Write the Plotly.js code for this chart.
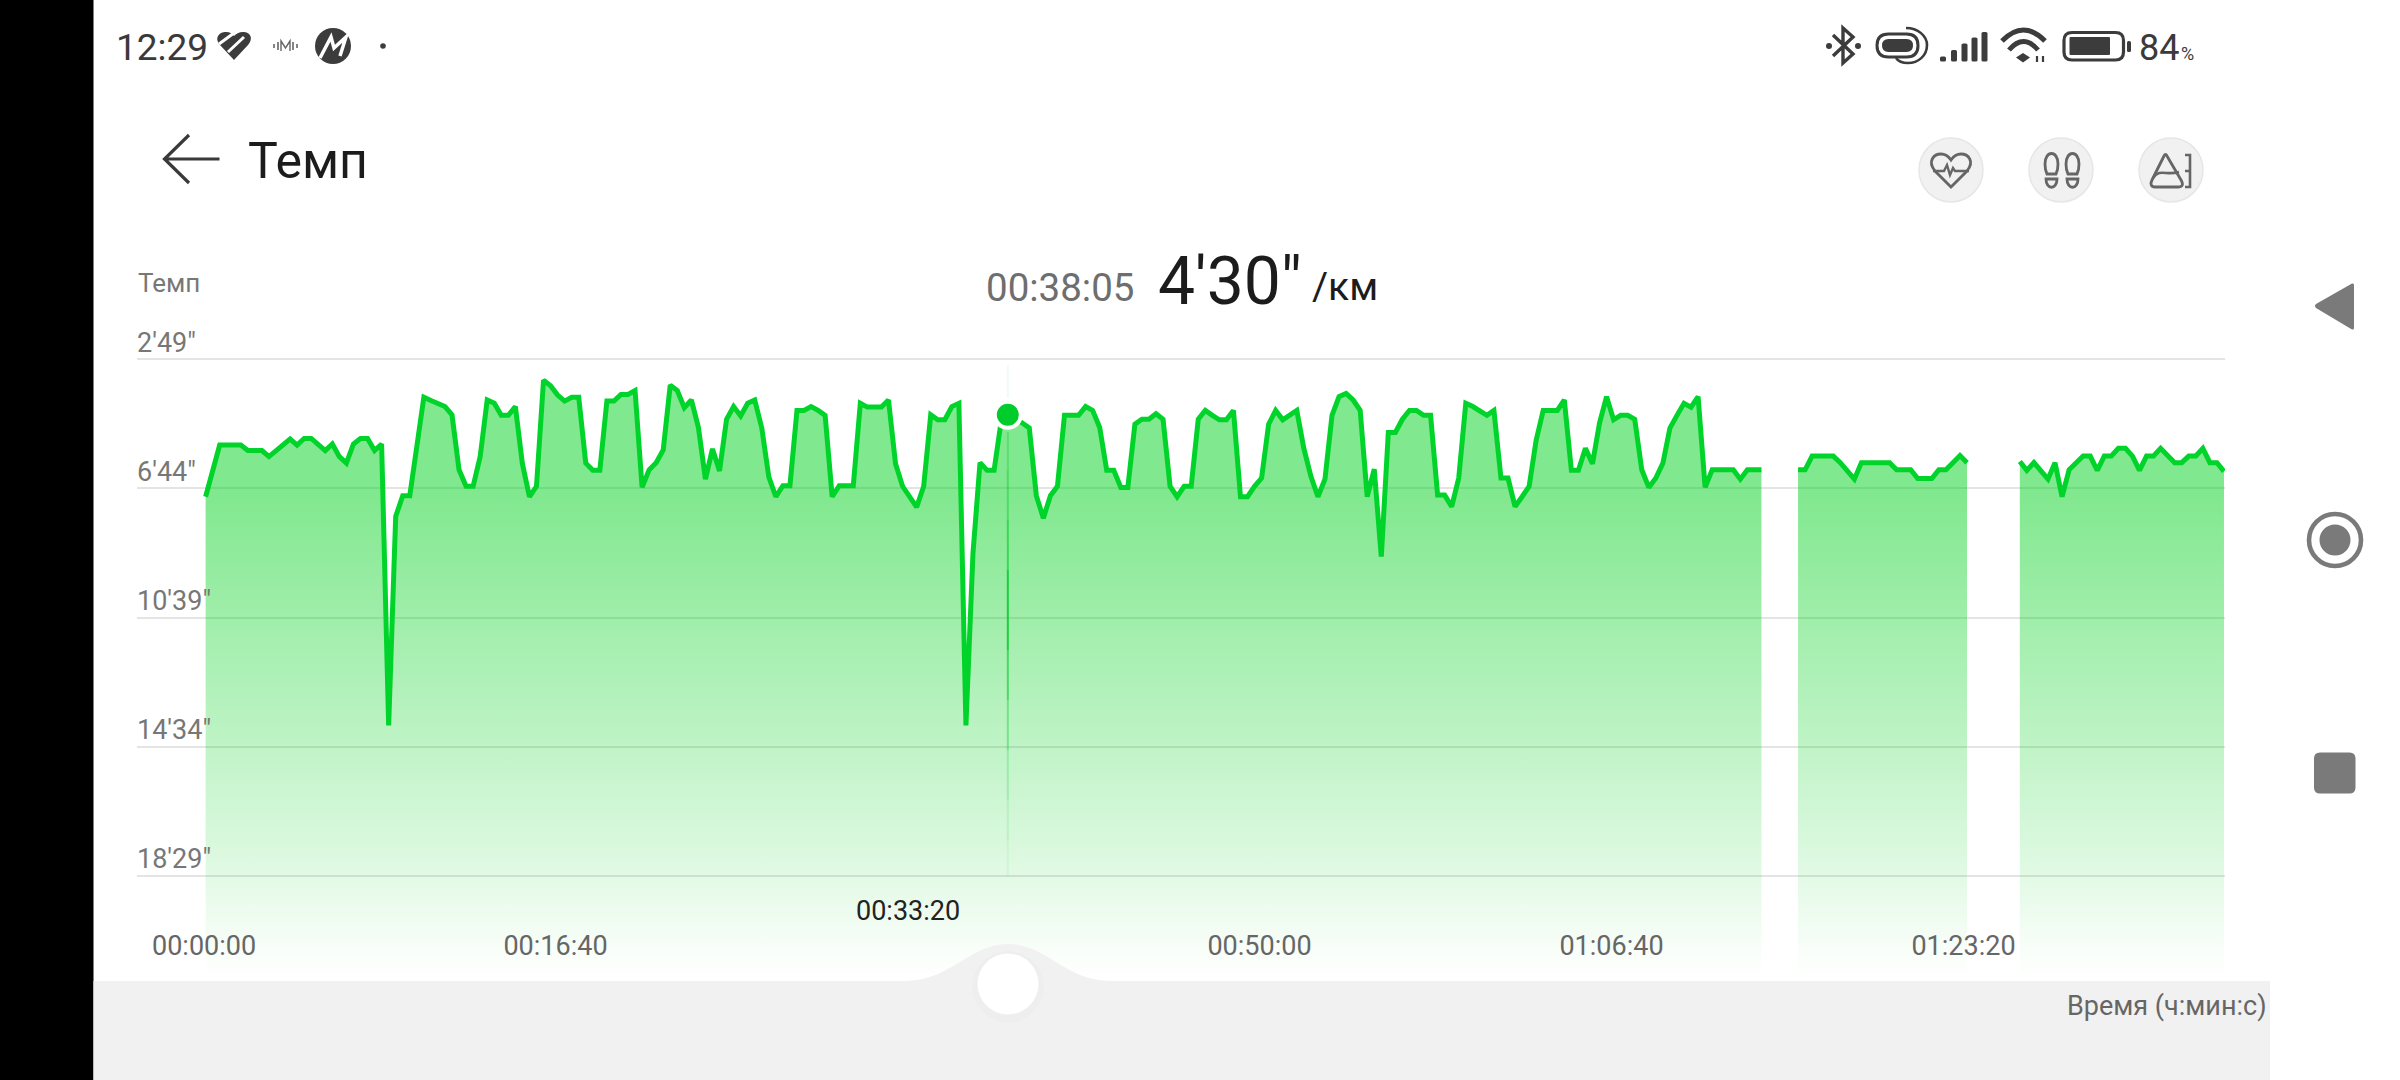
<!DOCTYPE html>
<html>
<head>
<meta charset="utf-8">
<script src="https://cdn.plot.ly/plotly-3.0.1.min.js"></script>
<style>html,body{margin:0;padding:0;background:#fff;overflow:hidden}#chart{width:2400px;height:1080px}</style>
</head>
<body>
<div id="chart"></div>
<script>
// ---------- data (seconds) ----------
const timeA = [6,26,46,66,86,106,126,146,166,186,206,226,246,266,286,306,326,346,366,386,406,426,446,466,486,506,526,546,566,586,606,626,646,666,686,706,726,746,766,786,806,826,846,866,886,906,926,946,966,986,1006,1026,1046,1066,1086,1106,1126,1146,1166,1186,1206,1226,1246,1266,1286,1306,1326,1346,1366,1386,1406,1426,1446,1466,1486,1506,1526,1546,1566,1586,1606,1626,1646,1666,1686,1706,1726,1746,1766,1786,1806,1826,1846,1866,1886,1906,1926,1946,1966,1986,2006,2026,2046,2066,2086,2106,2126,2146,2166,2186,2206,2226,2246,2266,2286,2306,2326,2346,2366,2386,2406,2426,2446,2466,2486,2506,2526,2546,2566,2586,2606,2626,2646,2666,2686,2706,2726,2746,2766,2786,2806,2826,2846,2866,2886,2906,2926,2946,2966,2986,3006,3026,3046,3066,3086,3106,3126,3146,3166,3186,3206,3226,3246,3266,3286,3306,3326,3346,3366,3386,3406,3426,3446,3466,3486,3506,3526,3546,3566,3586,3606,3626,3646,3666,3686,3706,3726,3746,3766,3786,3806,3826,3846,3866,3886,3906,3926,3946,3966,3986,4006,4026,4046,4066,4086,4106,4126,4146,4166,4186,4206,4226,4246,4266,4286,4306,4326,4346,4366,4386,4406,4426];
const paceA = [419,370,325,325,325,325,335,335,335,346,335,325,314,325,313,313,323,335,323,346,358,323,313,313,335,323,835,455,417,417,328,238,244,250,255,270,370,400,400,346,243,249,271,271,255,359,419,400,207,217,234,245,238,238,358,371,371,245,245,233,233,226,402,370,357,334,216,226,257,243,293,387,332,372,278,255,272,249,243,294,383,419,399,399,262,262,255,262,271,419,399,399,399,249,256,256,256,243,359,400,419,438,400,270,279,279,255,249,835,522,357,371,371,282,271,276,285,294,417,458,417,400,271,271,271,255,262,293,371,371,402,402,287,278,278,268,278,400,419,400,400,278,262,271,279,279,262,419,419,400,385,287,262,279,271,262,331,382,419,387,271,237,231,243,262,419,369,528,302,302,278,262,262,271,271,416,416,437,385,249,255,262,271,262,385,385,437,419,400,316,262,262,262,243,371,371,331,359,285,237,279,271,271,278,370,402,385,358,294,271,249,256,237,402,370,370,370,370,387,370,370,370];
const timeB = [4530,4550,4570,4590,4610,4630,4650,4670,4690,4710,4730,4750,4770,4790,4810,4830,4850,4870,4890,4910,4930,4950,4970,4990,5010];
const paceB = [370,370,345,345,345,345,357,371,387,357,357,357,357,357,370,370,370,386,386,386,370,370,357,344,357];
const timeC = [5160,5180,5200,5220,5240,5260,5280,5300,5320,5340,5360,5380,5400,5420,5440,5460,5480,5500,5520,5540,5560,5580,5600,5620,5640,5660,5680,5700,5720,5740];
const paceC = [355,371,357,371,387,357,419,370,357,345,345,371,345,345,331,331,345,371,345,345,331,345,357,357,345,345,331,357,357,373];
const paceTickVals = [169,404,639,874,1109];
const paceTickText = ["2'49\"","6'44\"","10'39\"","14'34\"","18'29\""];
const timeTickVals = [1000,3000,4000,5000];
const timeTickText = ["00:16:40","00:50:00","01:06:40","01:23:20"];
const cursorTime = 2285;
const cursorPace = 270;

// ---------- geometry helpers ----------
const L = 137, R = 2225, T = 310, B = 972;
const floorPace = 1283.6;
const px = X => (X - L) / (R - L);
const py = Y => (B - Y) / (B - T);
function path(d) { // pixel path -> paper path
  const toks = d.trim().split(/\s+/); let out = []; let isX = true;
  for (const t of toks) {
    if (/^[A-Za-z]$/.test(t)) { out.push(t); isX = true; }
    else { out.push(isX ? px(+t) : py(+t)); isX = !isX; }
  }
  return out.join(' ');
}
const shapes = [];
function P(d, fill, stroke, w) {
  shapes.push({type:'path', xref:'paper', yref:'paper', path:path(d), layer:'above',
    fillcolor: fill || 'rgba(0,0,0,0)', line:{color: stroke || 'rgba(0,0,0,0)', width: w || 0}});
}
function C(cx, cy, r, fill, stroke, w) {
  shapes.push({type:'circle', xref:'paper', yref:'paper', x0:px(cx-r), x1:px(cx+r), y0:py(cy+r), y1:py(cy-r), layer:'above',
    fillcolor: fill || 'rgba(0,0,0,0)', line:{color: stroke || 'rgba(0,0,0,0)', width: w || 0}});
}
function Rc(x0,y0,x1,y1,r,fill,stroke,w){
  P(`M ${x0+r} ${y0} L ${x1-r} ${y0} Q ${x1} ${y0} ${x1} ${y0+r} L ${x1} ${y1-r} Q ${x1} ${y1} ${x1-r} ${y1} L ${x0+r} ${y1} Q ${x0} ${y1} ${x0} ${y1-r} L ${x0} ${y0+r} Q ${x0} ${y0} ${x0+r} ${y0} Z`, fill, stroke, w);
}

// ---------- frame ----------
const dark = '#3c3c3c', ico = '#666666', bar = '#f1f1f1';
P('M 0 0 L 93.5 0 L 93.5 1080 L 0 1080 Z', '#000000');
P('M 93.5 981 L 905 981 C 950 981 970 944 1008 944 C 1046 944 1066 981 1110 981 L 2270 981 L 2270 1080 L 93.5 1080 Z', bar);
C(1008, 987, 36, 'rgba(0,0,0,0.012)');
C(1008, 984, 30.5, '#ffffff');

// back arrow
P('M 219.5 159 L 164.5 159 M 189 135 L 164.5 159 L 189 183', null, '#3a3a3a', 3.2);

// status left: heart logo
P('M 234 60 L 220 45 C 214 38 219 32 226 32 C 230 32 233 34 234 36 C 236 34 239 32 243 32 C 250 32 254 38 248 45 Z', dark);
P('M 219 44 L 234 33 M 228 52 L 244 37', null, '#ffffff', 3);
// status left: wave glyph
[[274,44,48],[278,42,50],[297,44,48],[293,42,50]].forEach(b => P(`M ${b[0]} ${b[1]} L ${b[0]} ${b[2]}`, null, '#666', 1.6));
P('M 281 51 L 281 41 L 285.5 48 L 290 41 L 290 51', null, '#666', 1.4);
// status left: round logo and dot
C(333, 46, 18, dark);
P('M 320 58 L 331 37 L 334 48 L 346 37 L 340 56', null, '#ffffff', 3.5);
C(383, 46, 2.8, dark);

// bluetooth
P('M 1833 35 L 1853 54 L 1843 63 L 1843 28 L 1853 37 L 1833 56', null, dark, 3.4);
C(1829, 46, 3, dark); C(1858, 46, 3, dark);
// link icon
Rc(1877,34,1918,57,11.5,'#ffffff',dark,3);
Rc(1882,39,1913,52,6.5,dark);
P('M 1906 28 C 1918 28 1927 36 1927 45 C 1927 56 1918 63 1908 63 C 1902 63 1898 61 1896 58', null, dark, 2.6);
// signal bars
[[1943,56.5],[1954,50],[1964.5,43.5],[1974.5,37.5],[1984.5,32]].forEach(b => Rc(b[0]-3,b[1],b[0]+3,61.5,1.6,dark));
// wifi
P('M 2002 41 Q 2023.5 19 2045 41', null, dark, 5);
P('M 2009 50 Q 2023.5 33 2038 50', null, dark, 5);
P('M 2016 57.5 L 2023 53 L 2030 57.5 L 2023 62.5 Z', dark);
P('M 2037 56 L 2037 62 M 2043 56 L 2043 62', null, dark, 2.2);
// battery
Rc(2064,32.5,2123.5,60,8,'#ffffff',dark,3.2);
Rc(2069.5,37,2110,55,1,dark);
Rc(2127,41,2131,52,1.6,dark);

// round buttons
C(1951, 170, 32, '#f1f1f1', '#e6e6e6', 1.5);
C(2061, 170, 32, '#f1f1f1', '#e6e6e6', 1.5);
C(2171, 170, 32, '#f1f1f1', '#e6e6e6', 1.5);
// heart + ecg
P('M 1951 187 L 1935 171 C 1927 161 1934 154 1941 154 C 1946 154 1949 157 1951 160 C 1953 157 1956 154 1961 154 C 1968 154 1975 161 1967 171 Z', null, ico, 2.8);
P('M 1933 171 L 1944 171 L 1947 165 L 1950 175 L 1953 168 L 1955 171 L 1969 171', null, ico, 2.4);
// footprints
P('M 2045 164 C 2045 150 2058 150 2058 164 C 2058 168 2057 172 2056 174 L 2047 174 C 2046 172 2045 168 2045 164 Z', null, ico, 2.8);
P('M 2079 164 C 2079 150 2066 150 2066 164 C 2066 168 2067 172 2068 174 L 2077 174 C 2078 172 2079 168 2079 164 Z', null, ico, 2.8);
P('M 2046 179 L 2057 179 C 2057 190 2046 190 2046 179 Z', null, ico, 2.8);
P('M 2067 179 L 2078 179 C 2078 190 2067 190 2067 179 Z', null, ico, 2.8);
// mountain
P('M 2167 156 L 2181 180 C 2184 185 2182 187 2178 187 L 2155 187 C 2151 187 2150 184 2152 180 L 2164 156 C 2165 154 2166 154 2167 156 Z', null, ico, 2.8);
P('M 2153 178 C 2160 168 2166 176 2179 172', null, ico, 2.6);
P('M 2185 155 L 2190 155 L 2190 187 L 2185 187 M 2185 171 L 2190 171', null, ico, 2.6);

// navigation bar
const nav = '#7a7a7a';
P('M 2352 283.5 L 2316 304 Q 2314 306 2316 308 L 2352 329.5 Q 2354 330 2354 328 L 2354 285 Q 2354 283 2352 283.5 Z', nav);
C(2335, 540, 26, '#ffffff', nav, 4.6);
C(2335, 540, 15.5, nav);
Rc(2314,752.5,2355.5,793.5,6,nav);

// cursor line (fades towards both ends)
const cursorBands = [[365,398,.06],[432,470,.3],[470,520,.42],[520,570,.6],[570,650,.85],[650,700,.6],[700,750,.38],[750,800,.22],[800,840,.12],[840,876,.07]];
cursorBands.forEach(s => shapes.push({type:'line', xref:'x', yref:'paper', x0:cursorTime, x1:cursorTime, y0:py(s[0]), y1:py(s[1]), layer:'above',
  line:{color:`rgba(0,205,40,${s[2]})`, width:2}}));

// ---------- traces ----------
const lineColor = '#00d42b';
const grad = {type:'vertical', start:300, stop:floorPace,
  colorscale:[[0,'rgba(0,209,29,0.5)'],[0.106,'rgba(0,209,29,0.5)'],[0.583,'rgba(0,209,29,0.25)'],[0.773,'rgba(0,209,29,0.145)'],[0.97,'rgba(0,209,29,0.02)'],[1,'rgba(0,209,29,0.008)']]};
const traces = [];
[[timeA,paceA],[timeB,paceB],[timeC,paceC]].forEach(s => {
  traces.push({x:s[0], y:s[0].map(() => floorPace), type:'scatter', mode:'lines', line:{width:0}, hoverinfo:'skip', showlegend:false});
  traces.push({x:s[0], y:s[1], type:'scatter', mode:'lines', fill:'tonexty', fillgradient:grad, fillcolor:'rgba(0,209,29,0.3)',
    line:{color:lineColor, width:5, shape:'linear'}, showlegend:false});
});
traces.push({x:[cursorTime], y:[cursorPace], type:'scatter', mode:'markers',
  marker:{color:'#00cc2b', size:26, line:{color:'#ffffff', width:4}}, showlegend:false});

// ---------- text ----------
const F = 'Roboto, sans-serif';
function A(text, X, Y, size, color, anchor) {
  return {text, xref:'paper', yref:'paper', x:px(X), y:py(Y), xanchor:anchor||'left', yanchor:'middle', showarrow:false, borderpad:0,
    font:{family:F, size, color}};
}
const annotations = [
  A('12:29', 115, 47, 37, '#3a3a3a'),
  A('84', 2138, 48, 36, '#3a3a3a'),
  A('%', 2180, 53, 18, '#3a3a3a'),
  A('Темп', 247, 161, 50, '#1c1c1c'),
  A('Темп', 137, 283, 26, '#777777'),
  A('00:38:05', 985, 288, 38.5, '#6e6e6e'),
  A('4\'30"', 1157, 282, 66, '#1c1c1c'),
  A('/км', 1310.5, 287, 39, '#1c1c1c'),
  A('Время (ч:мин:с)', 2268, 1006, 27, '#666666', 'right'),
  {text:'00:33:20', xref:'x', yref:'paper', x:2000, y:py(911), xanchor:'center', yanchor:'middle', showarrow:false, borderpad:0,
    font:{family:F, size:27, color:'#222222'}},
  {text:'00:00:00', xref:'x', yref:'paper', x:0, y:py(946), xanchor:'center', yanchor:'middle', showarrow:false, borderpad:0,
    font:{family:F, size:27, color:'#666666'}}
];

const layout = {
  width:2400, height:1080, autosize:false, showlegend:false,
  paper_bgcolor:'#ffffff', plot_bgcolor:'rgba(0,0,0,0)',
  margin:{l:L, r:2400-R, t:T, b:1080-B, pad:0},
  font:{family:F},
  xaxis:{range:[(L-203.5)/0.352,(R-203.5)/0.352], tickmode:'array', tickvals:timeTickVals, ticktext:timeTickText,
    showgrid:false, zeroline:false, showline:false, ticks:'', ticklabelposition:'inside', ticklabelstandoff:9,
    tickfont:{family:F, size:27, color:'#666666'}},
  yaxis:{range:[floorPace,169-(359.3-T)/0.5497], tickmode:'array', tickvals:paceTickVals, ticktext:paceTickText,
    showgrid:true, gridcolor:'#e4e4e4', gridwidth:2, zeroline:false, showline:false, ticks:'',
    ticklabelposition:'inside', ticklabelshift:17, ticklabelstandoff:-3,
    tickfont:{family:F, size:27, color:'#777777'}},
  shapes, annotations
};
Plotly.newPlot('chart', traces, layout, {displayModeBar:false, staticPlot:true});
</script>
</body>
</html>
